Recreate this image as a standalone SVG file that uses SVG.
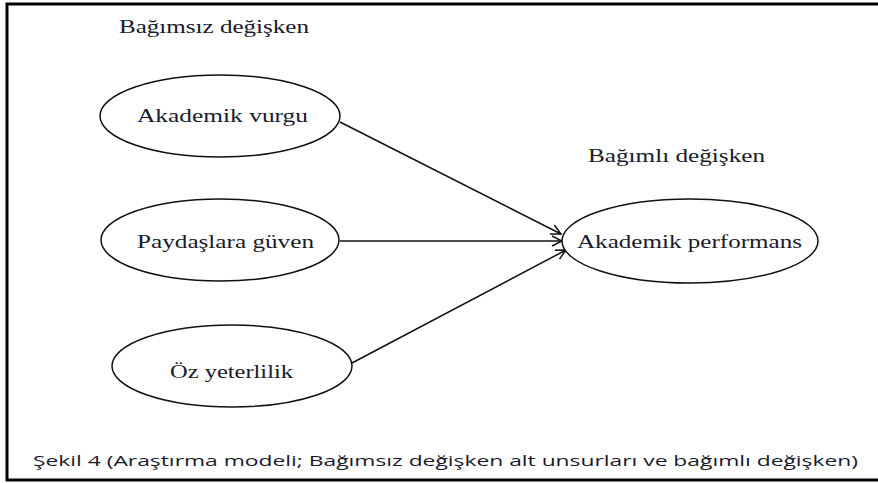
<svg xmlns="http://www.w3.org/2000/svg" width="878" height="483" viewBox="0 0 878 483">
<style>
.node{fill:#fff;stroke:#111;stroke-width:1.5}
.t{font-family:"Liberation Serif","Times New Roman",serif;font-size:18px;fill:#1a1a2a}
.conn{stroke:#111;stroke-width:1.5;fill:none;marker-end:url(#arr)}
.cap{font-family:"Open Sans","Liberation Sans",sans-serif;font-size:14px;fill:#1a1a2a}
</style>
<defs>
<marker id="arr" viewBox="0 0 12 12" refX="11" refY="6" markerWidth="12" markerHeight="12" markerUnits="userSpaceOnUse" orient="auto">
<path d="M1,1 L11,6 L1,11" fill="none" stroke="#111" stroke-width="1.5"/>
</marker>
</defs>
<rect x="0" y="0" width="878" height="483" fill="#fff"/>
<rect x="7" y="4" width="880" height="476" fill="none" stroke="#000" stroke-width="3"/>
<text class="t" x="119" y="33" textLength="190" lengthAdjust="spacingAndGlyphs">Bağımsız değişken</text>
<text class="t" x="588" y="162" textLength="177" lengthAdjust="spacingAndGlyphs">Bağımlı  değişken</text>
<g id="conns">
<line class="conn" x1="340" y1="122" x2="561" y2="234"/>
<line class="conn" x1="340" y1="241" x2="562" y2="241"/>
<line class="conn" x1="352" y1="363" x2="566" y2="250"/>
</g>
<g id="n1">
<ellipse class="node" cx="220" cy="116" rx="120" ry="41"/>
<text class="t" x="137" y="122" textLength="171" lengthAdjust="spacingAndGlyphs">Akademik vurgu</text>
</g>
<g id="n2">
<ellipse class="node" cx="220" cy="240" rx="119" ry="41"/>
<text class="t" x="137" y="248" textLength="177" lengthAdjust="spacingAndGlyphs">Paydaşlara güven</text>
</g>
<g id="n3">
<ellipse class="node" cx="232" cy="366" rx="120" ry="41"/>
<text class="t" x="170" y="378" textLength="123" lengthAdjust="spacingAndGlyphs">Öz yeterlilik</text>
</g>
<g id="n4">
<ellipse class="node" cx="690" cy="241" rx="128" ry="42"/>
<text class="t" x="577" y="248" textLength="225" lengthAdjust="spacingAndGlyphs">Akademik performans</text>
</g>
<text class="cap" x="33" y="466" textLength="825" lengthAdjust="spacingAndGlyphs">Şekil 4 (Araştırma modeli; Bağımsız değişken alt unsurları ve bağımlı değişken)</text>
</svg>
